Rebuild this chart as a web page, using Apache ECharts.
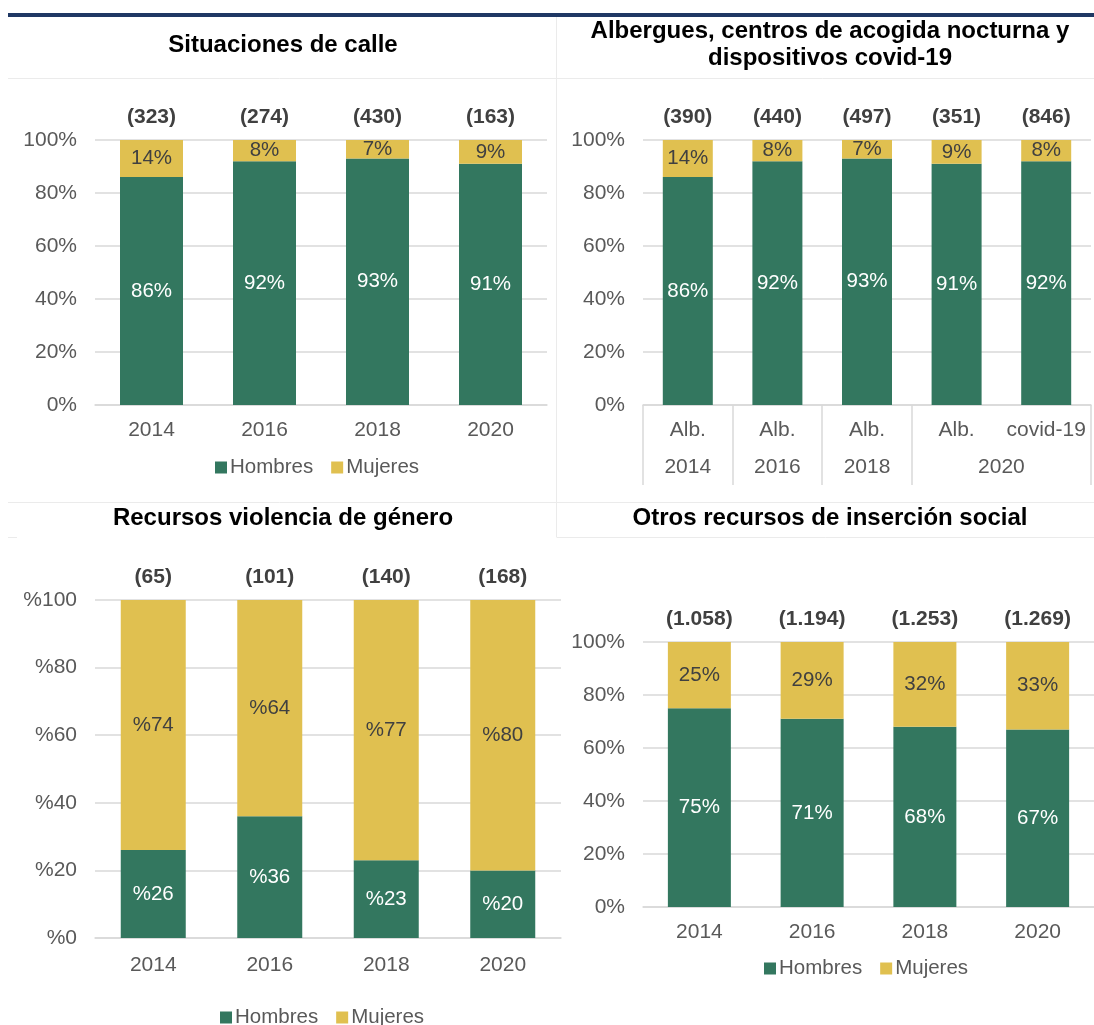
<!DOCTYPE html>
<html>
<head>
<meta charset="utf-8">
<script src="https://cdn.jsdelivr.net/npm/echarts@6/dist/echarts.min.js"></script>
<style>
  html, body { margin: 0; padding: 0; background: #fff; }
  #chart { width: 1094px; height: 1025px; }
</style>
</head>
<body>
<div id="chart"></div>
<script>
// ---- data ----
const years = ['2014', '2016', '2018', '2020'];

const calleHombres = [86, 92, 93, 91];
const calleMujeres = [14, 8, 7, 9];
const calleTotales = [323, 274, 430, 163];

const albCategorias = ['Alb.', 'Alb.', 'Alb.', 'Alb.', 'covid-19'];
const albAnios = ['', '2014', '', '2016', '', '2018', '', '', '2020', '', ''];
const albHombres = [86, 92, 93, 91, 92];
const albMujeres = [14, 8, 7, 9, 8];
const albTotales = [390, 440, 497, 351, 846];

const vgHombres = [26, 36, 23, 20];
const vgMujeres = [74, 64, 77, 80];
const vgTotales = [65, 101, 140, 168];

const otrosHombres = [75, 71, 68, 67];
const otrosMujeres = [25, 29, 32, 33];
const otrosTotales = [1058, 1194, 1253, 1269];

const titulos = [
  'Situaciones de calle',
  'Albergues, centros de acogida nocturna y\ndispositivos covid-19',
  'Recursos violencia de género',
  'Otros recursos de inserción social'
];

// ---- style ----
const FONT = "'Liberation Sans', Arial, sans-serif";
const VERDE = '#33775F';
const AMARILLO = '#E0C050';
const GRIS_TEXTO = '#595959';
const GRIS_OSCURO = '#404040';
const GRIS_REJILLA = '#D9D9D9';
const BORDE = '#EBEBEB';

function fmtTotal(n) {
  return '(' + String(n).replace(/\B(?=(\d{3})+(?!\d))/g, '.') + ')';
}

function yAxis(gridIndex, prefixPct) {
  return {
    type: 'value', gridIndex, min: 0, max: 100, interval: 20,
    axisLine: { show: false }, axisTick: { show: false },
    axisLabel: {
      color: GRIS_TEXTO, fontFamily: FONT, fontSize: 21, margin: 18,
      formatter: v => prefixPct ? '%' + v : v + '%'
    },
    splitLine: { lineStyle: { color: GRIS_REJILLA, width: 1.5 } }
  };
}

function xAxis(gridIndex, data, margin) {
  return {
    type: 'category', gridIndex, data,
    axisLine: { lineStyle: { color: GRIS_REJILLA, width: 1.5 } },
    axisTick: { show: false },
    axisLabel: { color: GRIS_TEXTO, fontFamily: FONT, fontSize: 21, margin, interval: 0 }
  };
}

function barSeries(idx, hombres, mujeres, totales, barWidth, prefixPct) {
  const pct = p => prefixPct ? '%' + p.value : p.value + '%';
  const stack = 's' + idx.g;
  return [
    {
      name: 'Hombres', type: 'bar', stack, xAxisIndex: idx.x, yAxisIndex: idx.g,
      barWidth, data: hombres, itemStyle: { color: VERDE },
      label: { show: true, position: 'inside', color: '#FFFFFF', fontFamily: FONT, fontSize: 20.5, formatter: pct }
    },
    {
      name: 'Mujeres', type: 'bar', stack, xAxisIndex: idx.x, yAxisIndex: idx.g,
      barWidth, data: mujeres, itemStyle: { color: AMARILLO },
      label: { show: true, position: 'inside', color: GRIS_OSCURO, fontFamily: FONT, fontSize: 20.5, formatter: pct }
    },
    {
      // invisible full-height bar carrying the sample size above each column
      name: 'total', type: 'bar', xAxisIndex: idx.x, yAxisIndex: idx.g,
      barWidth, barGap: '-100%', silent: true, z: 1,
      data: hombres.map((h, i) => h + mujeres[i]),
      itemStyle: { color: 'rgba(0,0,0,0)' },
      label: {
        show: true, position: 'top', distance: 12, color: GRIS_OSCURO,
        fontFamily: FONT, fontSize: 21, fontWeight: 'bold',
        formatter: p => fmtTotal(totales[p.dataIndex])
      }
    }
  ];
}

function legend(left, top) {
  return {
    data: ['Hombres', 'Mujeres'], left, top, icon: 'rect',
    itemWidth: 12, itemHeight: 12, itemGap: 18,
    textStyle: { color: GRIS_TEXTO, fontFamily: FONT, fontSize: 20.5, padding: [0, 0, 0, -2] }
  };
}

function line(x1, y1, x2, y2) {
  return { type: 'line', silent: true, shape: { x1, y1, x2, y2 }, style: { stroke: BORDE, lineWidth: 1 } };
}

function titulo(text, x, y) {
  return {
    type: 'text', x, y, silent: true,
    style: {
      text, fill: '#000', font: "bold 24px " + FONT,
      textAlign: 'center', textVerticalAlign: 'middle', lineHeight: 27
    }
  };
}

const option = {
  animation: false,
  grid: [
    { left: 95, width: 452, top: 140, height: 265 },
    { left: 643, width: 450, top: 140, height: 265 },
    { left: 95, width: 466, top: 600, height: 338 },
    { left: 643, width: 451, top: 642, height: 265 }
  ],
  xAxis: [
    xAxis(0, years, 15),
    xAxis(1, albCategorias, 15),
    {
      // second row of the grouped category axis (years) with separators
      type: 'category', gridIndex: 1, position: 'bottom', boundaryGap: false, data: albAnios,
      axisLine: { show: false },
      axisTick: {
        show: true, length: 80, inside: false,
        interval: i => i === 0 || i === 2 || i === 4 || i === 6 || i === 10,
        lineStyle: { color: GRIS_REJILLA, width: 1.5 }
      },
      axisLabel: { color: GRIS_TEXTO, fontFamily: FONT, fontSize: 21, margin: 52, interval: 0 },
      splitLine: { show: false }
    },
    xAxis(2, years, 17),
    xAxis(3, years, 15)
  ],
  yAxis: [yAxis(0, false), yAxis(1, false), yAxis(2, true), yAxis(3, false)],
  legend: [legend(210, 452), legend(215, 1002), legend(759, 953)],
  series: [].concat(
    barSeries({ x: 0, g: 0 }, calleHombres, calleMujeres, calleTotales, 63, false),
    barSeries({ x: 1, g: 1 }, albHombres, albMujeres, albTotales, 50, false),
    barSeries({ x: 3, g: 2 }, vgHombres, vgMujeres, vgTotales, 65, true),
    barSeries({ x: 4, g: 3 }, otrosHombres, otrosMujeres, otrosTotales, 63, false)
  ),
  graphic: [
    { type: 'rect', silent: true, shape: { x: 8, y: 13, width: 1086, height: 4 }, style: { fill: '#1F3864' } },
    line(8, 78.5, 1094, 78.5),
    line(556.5, 17, 556.5, 537),
    line(8, 502.5, 1094, 502.5),
    line(556.5, 537.5, 1094, 537.5),
    line(8, 537.5, 17, 537.5),
    titulo(titulos[0], 283, 45),
    titulo(titulos[1], 830, 45),
    titulo(titulos[2], 283, 518),
    titulo(titulos[3], 830, 518)
  ]
};

const chart = echarts.init(document.getElementById('chart'), null, { renderer: 'canvas' });
chart.setOption(option);
</script>
</body>
</html>
